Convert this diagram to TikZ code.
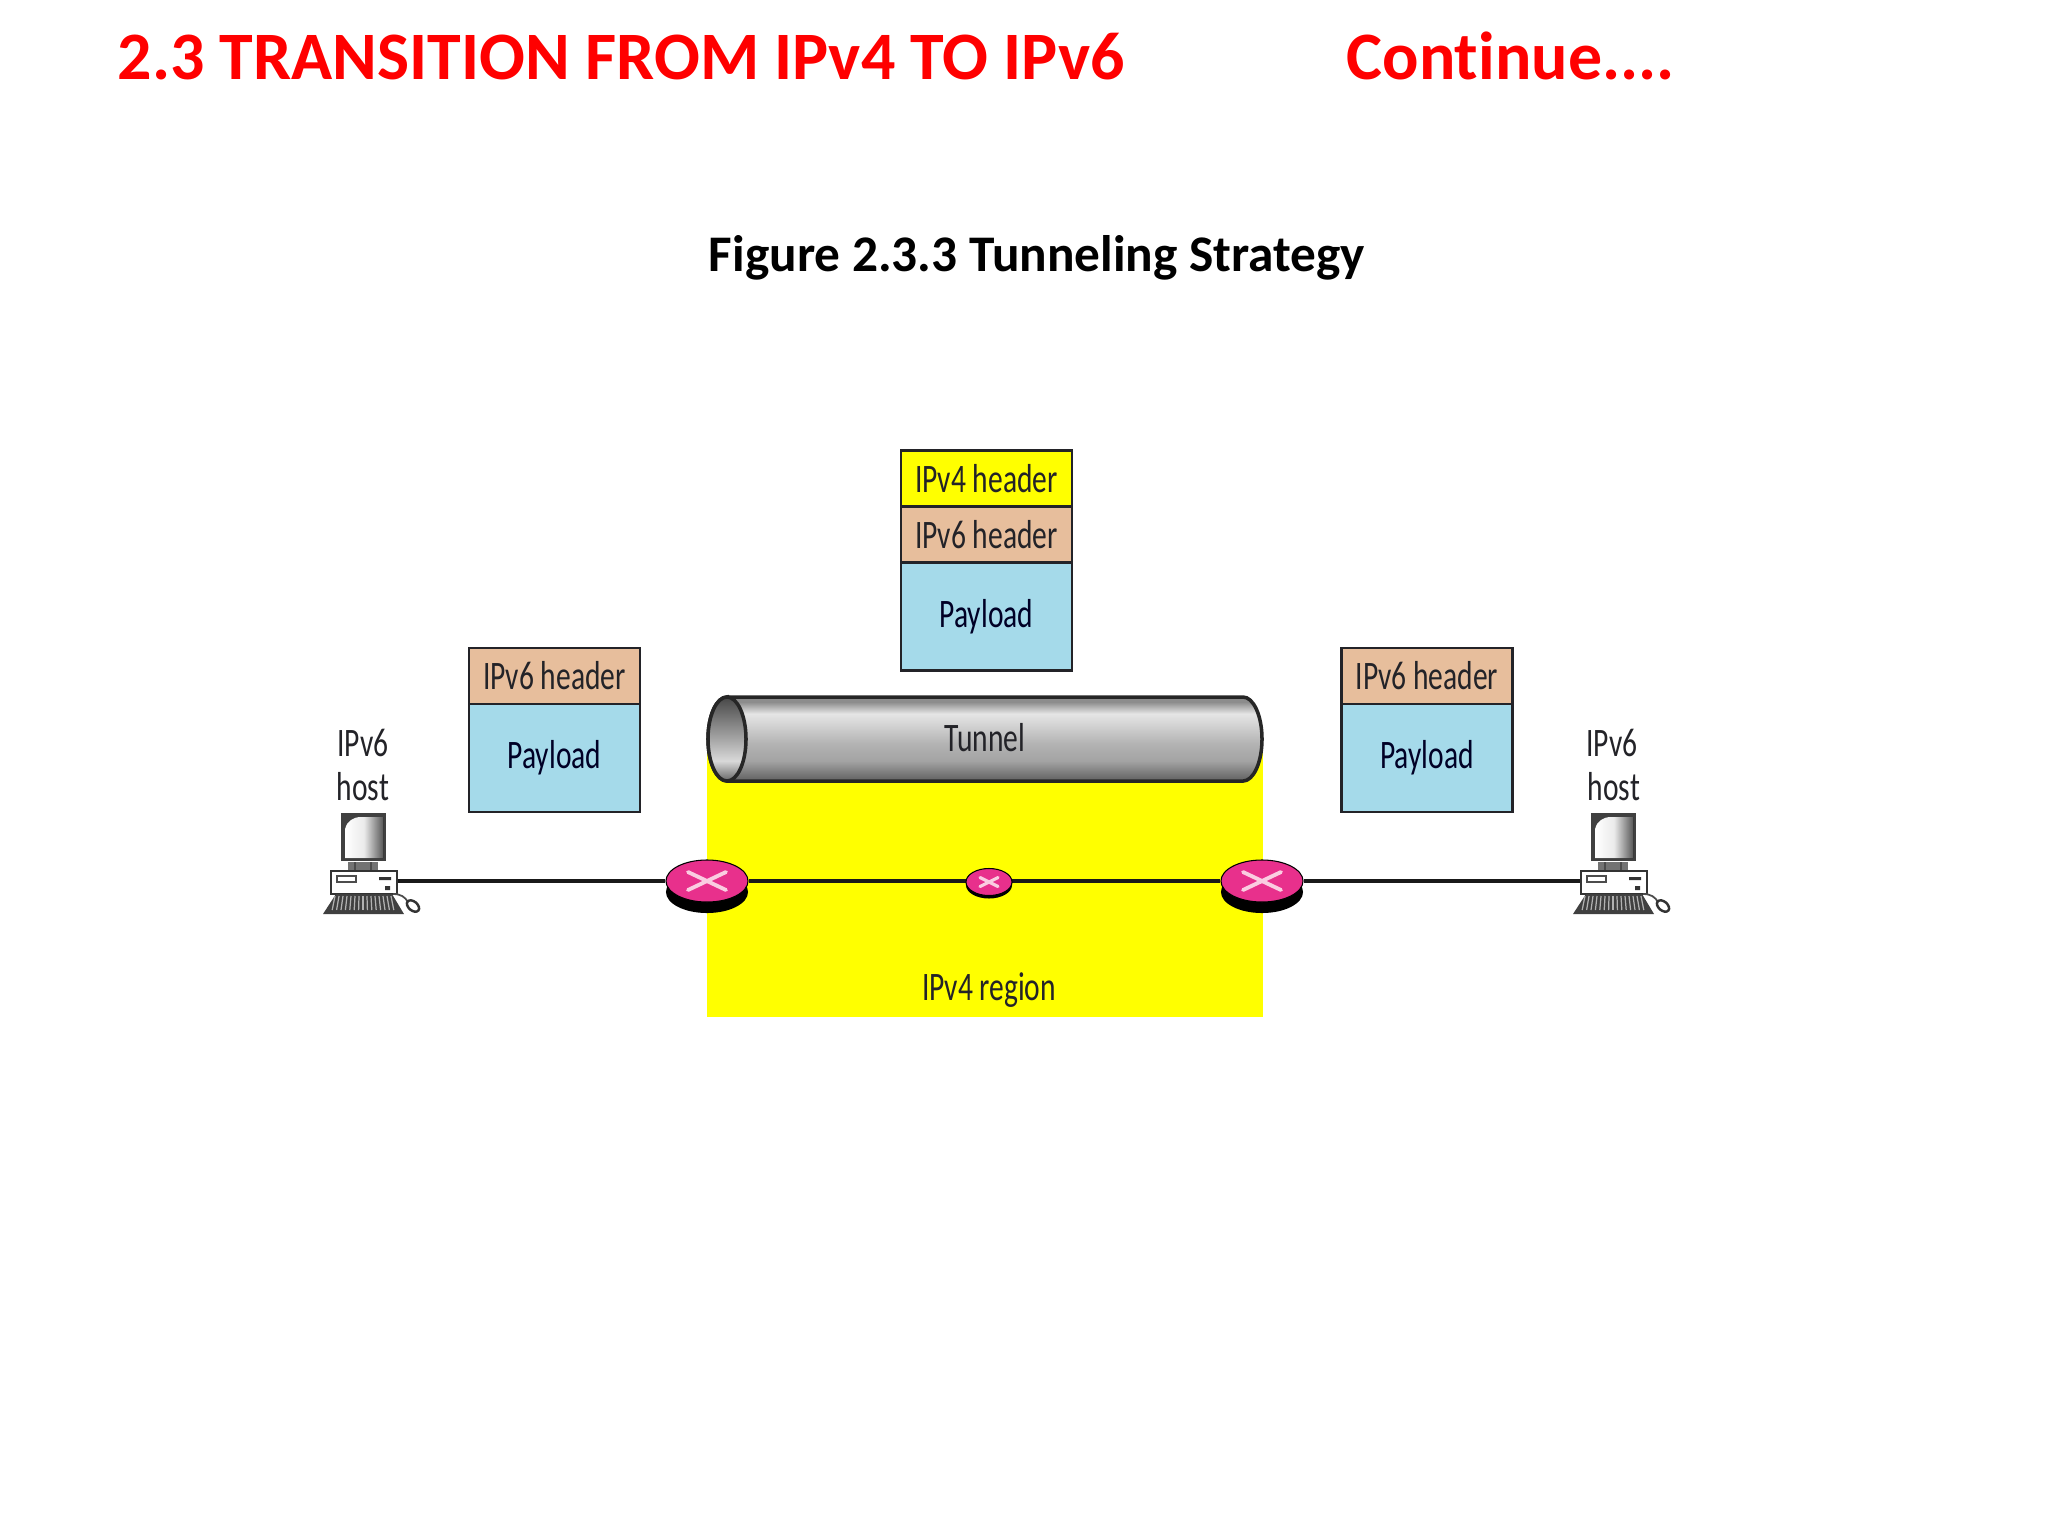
\documentclass[tikz,border=0pt]{standalone}
\usepackage{fontspec}
\setmainfont[Ligatures=NoCommon]{Carlito}
\newfontfamily\labelfont[FakeStretch=0.73]{Carlito}
\usetikzlibrary{shapes.geometric, positioning, backgrounds, shadows}
\definecolor{titlered}{RGB}{255,0,0}
\definecolor{regionyellow}{RGB}{255,255,0}
\definecolor{headertan}{RGB}{231,190,156}
\definecolor{payloadblue}{RGB}{165,218,234}
\definecolor{routerpink}{RGB}{232,48,140}
\definecolor{crosspink}{RGB}{250,205,225}
\definecolor{inkgray}{RGB}{35,35,40}
\pgfdeclareverticalshading{tunnelbody}{100bp}{
  color(0bp)=(black!60); color(27bp)=(black!58); color(37bp)=(black!36);
  color(47bp)=(black!30); color(65bp)=(black!10); color(72bp)=(black!45);
  color(100bp)=(black!50)}
\pgfdeclareverticalshading{tunnelmouth}{100bp}{
  color(0bp)=(black!65); color(25bp)=(black!60); color(37bp)=(black!15);
  color(50bp)=(black!35); color(75bp)=(black!72); color(100bp)=(black!72)}
\tikzset{
  slidetitle/.style={font=\fontsize{19.3pt}{22pt}\selectfont\bfseries, text=titlered, anchor=base west, inner sep=0pt},
  figcaption/.style={font=\fontsize{14.6pt}{17pt}\selectfont\bfseries, text=black, inner sep=0pt},
  hdrbox/.style={rectangle, draw=inkgray, line width=0.8pt, minimum width=1.71cm, minimum height=0.56cm,
    inner sep=0pt, outer sep=0pt, font=\labelfont\fontsize{11.5pt}{13pt}\selectfont, text=inkgray},
  ipvsixhdr/.style={hdrbox, fill=headertan},
  ipvfourhdr/.style={hdrbox, fill=regionyellow},
  payloadbox/.style={hdrbox, fill=payloadblue, minimum height=1.08cm, text=black!85!blue},
  plainlabel/.style={font=\labelfont\fontsize{11.5pt}{13pt}\selectfont, text=inkgray, inner sep=0pt},
  wire/.style={line width=1.1pt, color=black!90},
  router/.style={ellipse, fill=routerpink, draw=black, line width=0.3pt, inner sep=0pt,
    minimum width=0.82cm, minimum height=0.42cm,
    general shadow={fill=black, shadow yshift=-0.11cm, opacity=1},
    path picture={
      \draw[crosspink, line width=1.1pt, line cap=round]
        ([xshift=-0.19cm,yshift=-0.09cm]path picture bounding box.center) -- ([xshift=0.19cm,yshift=0.09cm]path picture bounding box.center)
        ([xshift=-0.19cm,yshift=0.09cm]path picture bounding box.center) -- ([xshift=0.19cm,yshift=-0.09cm]path picture bounding box.center);
    }},
  smallrouter/.style={ellipse, fill=routerpink, draw=black, line width=0.3pt, inner sep=0pt,
    minimum width=0.46cm, minimum height=0.27cm,
    general shadow={fill=black, shadow yshift=-0.03cm, opacity=1},
    path picture={
      \draw[crosspink, line width=0.9pt, line cap=round]
        ([xshift=-0.09cm,yshift=-0.045cm]path picture bounding box.center) -- ([xshift=0.09cm,yshift=0.045cm]path picture bounding box.center)
        ([xshift=-0.09cm,yshift=0.045cm]path picture bounding box.center) -- ([xshift=0.09cm,yshift=-0.045cm]path picture bounding box.center);
    }},
  pcbase/.style={rectangle, fill=white, draw=black!80, line width=0.5pt, inner sep=0pt,
    minimum width=0.66cm, minimum height=0.23cm},
  pc/.pic={
    % screen and stand
    \fill[black!75] (-22,-68) rectangle (23,-20);
    \fill[left color=white, right color=black!65, middle color=black!8]
      (-18,-52) .. controls (-16,-60) and (-10,-64) .. (-2,-64) -- (20,-64) -- (20,-23) -- (-18,-23) -- cycle;
    \fill[black!55] (-15,-19) rectangle (15,-11);
    \draw[black!70, line width=0.4pt] (-8,-19) -- (-8,-11) (8,-19) -- (8,-11);
    \node[pcbase] (-base) at (1,1.5) {};
    \draw[black!70, line width=0.6pt] (-26,-5) rectangle (-7,1);
    \fill[black!80] (16,-4) rectangle (28,-1) (22,5) rectangle (27,9);
    % keyboard and mouse
    \fill[black!75] (-27,13) -- (29,13) -- (41,33) -- (-40,33) -- cycle;
    \foreach \kx in {-28,-24,...,30}
      \draw[white!70!black, line width=0.35pt] (\kx,15) -- (\kx*1.1,29);
    \draw[black!70, line width=0.5pt] (30,13) .. controls (38,13) and (42,16) .. (45,21);
    \draw[black!80, line width=0.7pt, fill=white, rotate around={-40:(50,25)}] (50,25) ellipse [x radius=0.07cm, y radius=0.045cm];
  },
}

\begin{document}
\begin{tikzpicture}[x=0.01cm, y=-0.01cm]
  \useasboundingbox (0,0) rectangle (2048,1536);

  % slide headings
  \node[slidetitle] (heading) at (117,79) {2.3 TRANSITION FROM IPv4 TO IPv6};
  \node[slidetitle] (continued) at (1346,79) {Continue....};
  \node[figcaption] (caption) at (1037,258) {Figure 2.3.3 Tunneling Strategy};

  % packets
  \node[ipvsixhdr] (hdrL) at (554.5,676) {IPv6 header};
  \node[payloadbox, below=0pt of hdrL] (loadL) {Payload};
  \node[ipvfourhdr] (hdrT) at (986.5,478.5) {IPv4 header};
  \node[ipvsixhdr, below=0pt of hdrT] (hdrM) {IPv6 header};
  \node[payloadbox, below=0pt of hdrM] (loadM) {Payload};
  \node[ipvsixhdr] (hdrR) at (1427,676) {IPv6 header};
  \node[payloadbox, below=0pt of hdrR] (loadR) {Payload};

  % hosts
  \pic (hostL) at (363,881) {pc};
  \pic (hostR) at (1613,881) {pc};
  \node[plainlabel] (ipL) at (363,743) {IPv6};
  \node[plainlabel, below=0.145cm of ipL] (hoL) {host};
  \node[plainlabel] (ipR) at (1612,743) {IPv6};
  \node[plainlabel, below=0.145cm of ipR, xshift=0.02cm] (hoR) {host};

  % routers
  \node[router] (routerL) at (707,881) {};
  \node[smallrouter] (routerM) at (989,882) {};
  \node[router] (routerR) at (1262,881) {};

  \begin{scope}[on background layer]
    \fill[regionyellow] (707,740) rectangle (1263,1017);
    \draw[wire] (hostL-base.east |- routerL) -- (routerL);
    \draw[wire] (routerL) -- (routerR);
    \draw[wire] (routerR) -- (hostR-base.west |- routerR);
  \end{scope}
  \node[plainlabel] (region) at (989,990) {IPv4 region};

  % tunnel
  \draw[black!85, line width=1pt, shading=tunnelbody]
    (727,697) -- (1243,697) arc[start angle=90, end angle=-90, x radius=0.19cm, y radius=0.42cm]
    -- (727,781) arc[start angle=270, end angle=90, x radius=0.19cm, y radius=0.42cm] -- cycle;
  \draw[black!85, line width=1pt, shading=tunnelmouth] (727,739) ellipse [x radius=0.19cm, y radius=0.42cm];
  \node[plainlabel] (tunnel) at (985,738) {Tunnel};
\end{tikzpicture}
\end{document}
